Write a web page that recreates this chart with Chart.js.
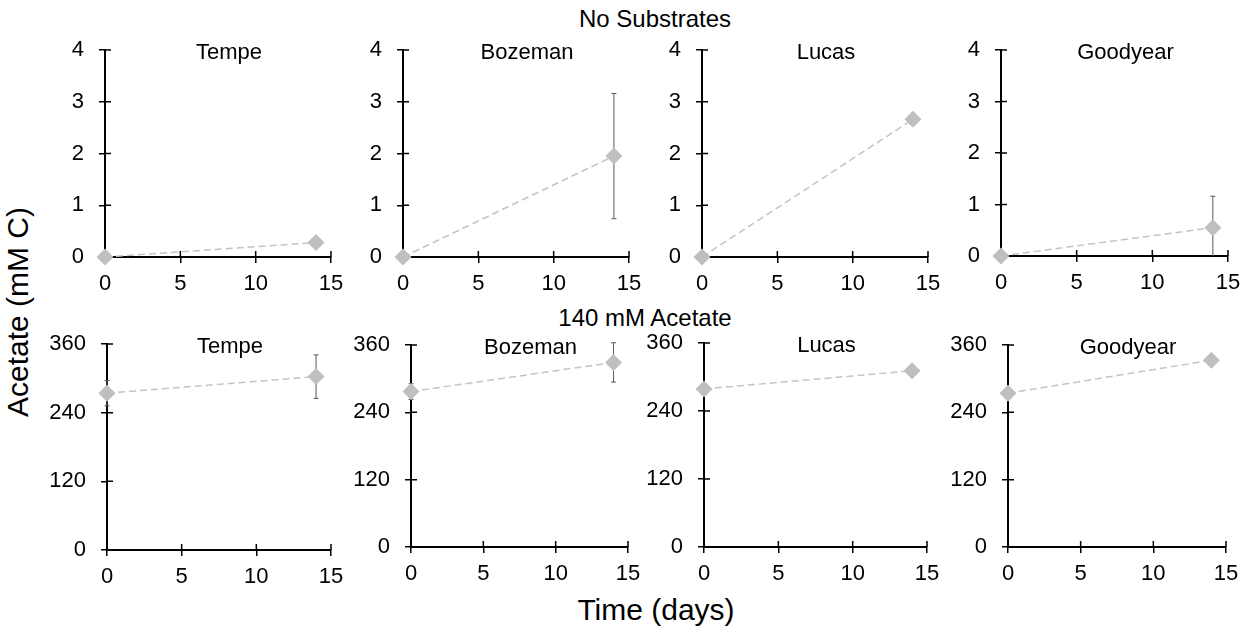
<!DOCTYPE html>
<html>
<head>
<meta charset="utf-8">
<script src="https://cdn.jsdelivr.net/npm/chart.js@4.4.1/dist/chart.umd.min.js"></script>
<style>
body { margin: 0; background: #fff; }
#wrap { position: relative; width: 1252px; height: 632px; overflow: hidden; font-family: "Liberation Sans", Arial, sans-serif; color: #000; }
canvas { position: absolute; }
.lbl { position: absolute; white-space: nowrap; transform: translate(-50%, -50%); line-height: 1; }
</style>
</head>
<body>
<div id="wrap">
  <div class="lbl" style="left:655px;top:19px;font-size:24px">No Substrates</div>
  <div class="lbl" style="left:645px;top:318px;font-size:24px">140 mM Acetate</div>
  <div class="lbl" style="left:656px;top:610px;font-size:30px">Time (days)</div>
  <div class="lbl" style="left:18px;top:312px;font-size:30px;transform:translate(-50%,-50%) rotate(-90deg)">Acetate (mM C)</div>
</div>
<script>
// データ
const sites = ['Tempe', 'Bozeman', 'Lucas', 'Goodyear'];
const days = [0, 14];
const xTicks = [0, 5, 10, 15];
const noSubTicks = [0, 1, 2, 3, 4];
const acetTicks = [0, 120, 240, 360];

// No Substrates (mM C), 各サイトの平均と誤差
const noSubMean = [[0, 0.28], [0, 1.95], [0, 2.66], [0, 0.55]];
const noSubErr = [[0, 0], [0, 1.21], [0, 0], [0, 0.61]];

// 140 mM Acetate (mM C)
const acetMean = [[274, 303], [277, 329], [279, 311], [274, 333]];
const acetErr = [[22, 38], [14, 35], [0, 0], [0, 0]];

// パネルの位置 (left, right, top, bottom) = プロット領域
const topBoxes = [[105, 331, 50, 257], [403, 629, 50, 257], [702, 928, 50, 257], [1001, 1228, 50, 256]];
const bottomBoxes = [[107, 331, 344, 550], [411, 628, 345, 547], [704, 927, 343, 547], [1008, 1226, 345, 547]];

const YW = 70, XH = 46, PT = 34, PR = 28;
const FONT = '"Liberation Sans", Arial, sans-serif';

// 軸を横切る目盛り（内側半分）
const crossTicks = {
    id: 'crossTicks',
    beforeDatasetsDraw(chart) {
        const { ctx, chartArea, scales: { x, y } } = chart;
        ctx.save();
        ctx.strokeStyle = '#000';
        ctx.lineWidth = 1.5;
        ctx.beginPath();
        x.ticks.forEach(t => {
            const px = x.getPixelForValue(t.value);
            ctx.moveTo(px, chartArea.bottom);
            ctx.lineTo(px, chartArea.bottom - 6);
        });
        y.ticks.forEach(t => {
            const py = y.getPixelForValue(t.value);
            ctx.moveTo(chartArea.left, py);
            ctx.lineTo(chartArea.left + 6, py);
        });
        ctx.stroke();
        ctx.restore();
    }
};

// エラーバー
const errorBars = {
    id: 'errorBars',
    beforeDatasetsDraw(chart) {
        const { ctx, scales: { x, y } } = chart;
        const ds = chart.data.datasets[0];
        ctx.save();
        ctx.strokeStyle = '#595959';
        ctx.lineWidth = 1;
        ds.data.forEach((p, i) => {
            const e = ds.errors[i];
            if (!e) return;
            const px = x.getPixelForValue(p.x);
            const hi = y.getPixelForValue(p.y + e);
            const lowVal = Math.max(y.min, p.y - e);
            const lo = y.getPixelForValue(lowVal);
            ctx.beginPath();
            ctx.moveTo(px, hi);
            ctx.lineTo(px, lo);
            ctx.moveTo(px - 2.5, hi);
            ctx.lineTo(px + 2.5, hi);
            if (lowVal > y.min) {
                ctx.moveTo(px - 2.5, lo);
                ctx.lineTo(px + 2.5, lo);
            }
            ctx.stroke();
        });
        ctx.restore();
    }
};

// パネルのタイトル
const panelTitle = {
    id: 'panelTitle',
    afterDraw(chart, args, opts) {
        const { ctx, chartArea } = chart;
        ctx.save();
        ctx.font = '22px ' + FONT;
        ctx.fillStyle = '#000';
        ctx.textAlign = 'center';
        ctx.textBaseline = 'middle';
        ctx.fillText(opts.text, (chartArea.left + chartArea.right) / 2 + 11, chartArea.top + 3);
        ctx.restore();
    }
};

function makePanel(box, site, mean, err, yTicks) {
    const [L, R, T, B] = box;
    const canvas = document.createElement('canvas');
    canvas.width = R - L + YW + PR;
    canvas.height = B - T + PT + XH;
    canvas.style.left = (L - YW) + 'px';
    canvas.style.top = (T - PT) + 'px';
    document.getElementById('wrap').appendChild(canvas);

    new Chart(canvas, {
        type: 'scatter',
        data: {
            datasets: [{
                data: days.map((d, i) => ({ x: d, y: mean[i] })),
                errors: err,
                showLine: true,
                borderColor: '#c4c4c4',
                borderWidth: 1.5,
                borderDash: [7, 4],
                pointStyle: 'rectRot',
                pointRadius: 8.5,
                pointBorderWidth: 0,
                pointBackgroundColor: '#bfbfbf',
                clip: false
            }]
        },
        options: {
            responsive: false,
            animation: false,
            events: [],
            layout: { padding: { top: PT, right: PR, left: 0, bottom: 0 } },
            plugins: {
                legend: { display: false },
                tooltip: { enabled: false },
                panelTitle: { text: site }
            },
            scales: {
                x: {
                    type: 'linear',
                    min: xTicks[0],
                    max: xTicks[xTicks.length - 1],
                    afterBuildTicks: s => { s.ticks = xTicks.map(v => ({ value: v })); },
                    afterFit: s => { s.height = XH; },
                    ticks: { color: '#000', font: { size: 22, family: FONT }, padding: 8, maxRotation: 0 },
                    grid: { drawOnChartArea: false, tickLength: 6, color: '#000', lineWidth: 1.5 },
                    border: { color: '#000', width: 2 }
                },
                y: {
                    type: 'linear',
                    min: yTicks[0],
                    max: yTicks[yTicks.length - 1],
                    afterBuildTicks: s => { s.ticks = yTicks.map(v => ({ value: v })); },
                    afterFit: s => { s.width = YW; },
                    ticks: { color: '#000', font: { size: 22, family: FONT }, padding: 15 },
                    grid: { drawOnChartArea: false, tickLength: 6, color: '#000', lineWidth: 1.5 },
                    border: { color: '#000', width: 2 }
                }
            }
        },
        plugins: [crossTicks, errorBars, panelTitle]
    });
}

sites.forEach((site, i) => {
    makePanel(topBoxes[i], site, noSubMean[i], noSubErr[i], noSubTicks);
    makePanel(bottomBoxes[i], site, acetMean[i], acetErr[i], acetTicks);
});
</script>
</body>
</html>
